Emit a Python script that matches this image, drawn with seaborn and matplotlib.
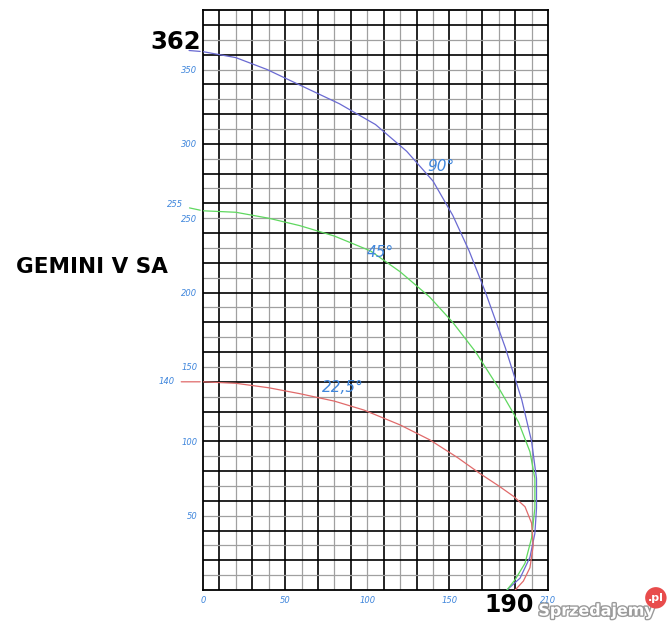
import numpy as np
import pandas as pd
import matplotlib
matplotlib.use('Agg')
import matplotlib.pyplot as plt
import matplotlib.patheffects as pe
import seaborn as sns

sns.set_style('white')
plt.rcParams['font.family'] = ['DejaVu Sans']

# curves (x, y)
x_90 = [0, 20, 39, 60, 83, 105, 124, 140, 152, 162, 172, 184, 194, 200, 203, 203, 202, 199, 193, 185]
y_90 = [362, 358, 350, 339, 327, 313, 295, 275, 252, 228, 200, 163, 128, 100, 75, 55, 38, 22, 8, 0]
x_45 = [0, 20, 40, 59, 80, 102, 120, 138, 152, 166, 181, 192, 199, 202, 202, 200, 196, 190, 185]
y_45 = [255, 254, 250, 245, 238, 228, 214, 197, 180, 160, 134, 113, 93, 75, 55, 35, 18, 7, 0]
x_22 = [0, 20, 40, 59, 80, 98, 120, 138, 155, 169, 180, 189, 196, 200, 201, 199, 195, 190]
y_22 = [140, 139, 136, 132, 127, 121, 111, 101, 89, 78, 70, 63, 56, 45, 30, 15, 6, 0]

curve_labels = ['90°', '45°', '22,5°']
label_pos = [(145, 285), (108, 227), (85, 136)]
start_values = [362, 255, 140]
x_ticks = [0, 50, 100, 150, 210]
y_ticks = [50, 100, 150, 200, 250, 300, 350]

blue = '#6a6ad2'
green = '#5fd85f'
red = '#e06a6a'
label_blue = '#3f86dc'

df = pd.concat([
    pd.DataFrame({'x': x_90, 'y': y_90, 'angle': '90'}),
    pd.DataFrame({'x': x_45, 'y': y_45, 'angle': '45'}),
    pd.DataFrame({'x': x_22, 'y': y_22, 'angle': '22.5'}),
])

fig = plt.figure(figsize=(6.72, 6.26), dpi=100)
ax = fig.add_axes([0.302, 0.0575, 0.5135, 0.9265])
ax.set_xlim(0, 210)
ax.set_ylim(0, 390)

# graph paper grid
for i, gx in enumerate(np.arange(10, 210, 10)):
    if i % 2 == 0:
        ax.axvline(gx, color='black', lw=1.2, zorder=1)
    else:
        ax.axvline(gx, color='#a0a0a0', lw=0.9, zorder=1)
for i, gy in enumerate(np.arange(10, 390, 10)):
    if i % 2 == 0:
        ax.axhline(gy, color='#a0a0a0', lw=0.9, zorder=1)
    else:
        ax.axhline(gy, color='black', lw=1.2, zorder=1)

sns.lineplot(data=df, x='x', y='y', hue='angle', palette=[blue, green, red],
             sort=False, estimator=None, lw=0.9, legend=False, ax=ax, zorder=3)

for (lx, ly), txt in zip(label_pos, curve_labels):
    ax.text(lx, ly, txt, color=label_blue, fontsize=11, style='italic',
            ha='center', va='center', zorder=4)

# leader lines for starting values
ax.annotate('', xy=(0, start_values[0]), xytext=(-12, 1), textcoords='offset points',
            arrowprops=dict(arrowstyle='-', color=blue, lw=0.9), annotation_clip=False)
ax.annotate('255', xy=(0, start_values[1]), xytext=(-14, 1), textcoords='offset points',
            arrowprops=dict(arrowstyle='-', color=green, lw=0.9), annotation_clip=False,
            color=label_blue, fontsize=6, style='italic', ha='right', va='bottom')
ax.annotate('140', xy=(0, start_values[2]), xytext=(-20, 0), textcoords='offset points',
            arrowprops=dict(arrowstyle='-', color=red, lw=0.9), annotation_clip=False,
            color=label_blue, fontsize=6, style='italic', ha='right', va='center')

ax.set_xticks(x_ticks)
ax.set_yticks(y_ticks)
ax.set_xticklabels([str(v) for v in x_ticks], fontsize=6, style='italic', color=label_blue)
ax.set_yticklabels([str(v) for v in y_ticks], fontsize=6, style='italic', color=label_blue)
ax.tick_params(axis='both', length=3, width=0.8, color=label_blue, pad=1)
ax.set_xlabel('')
ax.set_ylabel('')
for s in ax.spines.values():
    s.set_color('black')
    s.set_linewidth(1.3)

fig.text(0.261, 0.933, '362', fontsize=17.5, fontweight='bold', color='black',
         ha='center', va='center')
fig.text(0.137, 0.573, 'GEMINI V SA', fontsize=15.5, fontweight='bold', color='black',
         ha='center', va='center')
fig.text(0.758, 0.034, '190', fontsize=17, fontweight='bold', color='black',
         ha='center', va='center')

# site watermark
fig.text(0.888, 0.024, 'Sprzedajemy', fontsize=11.5, fontweight='bold', color='white',
         ha='center', va='center',
         path_effects=[pe.withStroke(linewidth=2, foreground='#9a9a9a')])
fig.text(0.976, 0.045, '.pl', fontsize=8, fontweight='bold', color='white',
         ha='center', va='center',
         bbox=dict(boxstyle='circle,pad=0.25', fc='#e84c4c', ec='none'))

fig.savefig('out.png', dpi=100)
